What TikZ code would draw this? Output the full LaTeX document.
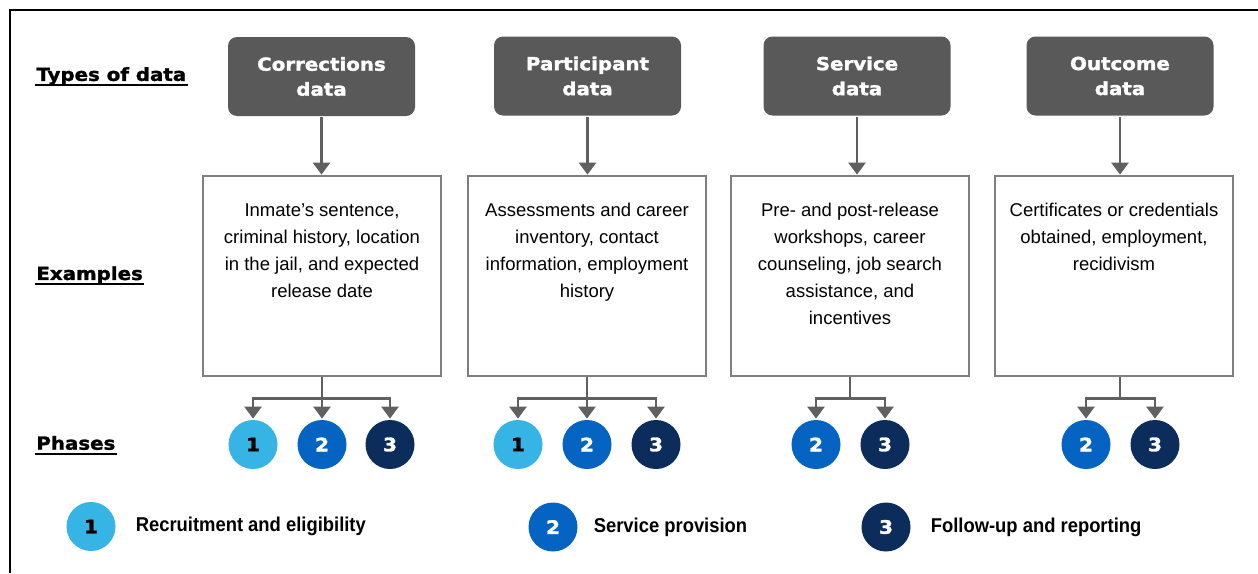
\documentclass[tikz,border=0pt]{standalone}
\usepackage{fontspec}
\setmainfont{Liberation Sans}
\newfontfamily\heavyfont[FakeStretch=1.1,FakeBold=1.6]{DejaVu Sans Bold}
\newfontfamily\narrowfont[FakeStretch=0.92]{Liberation Sans Bold}
\usetikzlibrary{arrows.meta,positioning}

\definecolor{typegray}{HTML}{595959}
\definecolor{linegray}{HTML}{606060}
\definecolor{boxgray}{HTML}{7F7F7F}
\definecolor{phaseone}{HTML}{36B4E5}
\definecolor{phasetwo}{HTML}{0563C1}
\definecolor{phasethree}{HTML}{0C2D5C}

\newcommand\exbox[1]{\parbox[c][200pt][t]{238pt}{\centering\vspace*{27.5pt}#1}}

\begin{document}
\begin{tikzpicture}[x=1pt,y=-1pt,>={Triangle[width=17pt,length=12pt]},
    line width=2.8pt,
    type node/.style={rectangle,rounded corners=9pt,fill=typegray,text=white,
      minimum width=187pt,minimum height=79pt,align=center,
      font=\heavyfont\fontsize{18}{25}\selectfont},
    example node/.style={rectangle,draw=boxgray,inner sep=0pt,
      font=\fontsize{18.5}{27}\selectfont},
    phase node/.style={circle,minimum size=49pt,inner sep=0pt,
      font=\heavyfont\fontsize{18.5}{18}\selectfont},
    one/.style={phase node,fill=phaseone,text=black},
    two/.style={phase node,fill=phasetwo,text=white},
    three/.style={phase node,fill=phasethree,text=white},
    row label/.style={anchor=west,inner sep=0pt,font=\heavyfont\fontsize{18}{20}\selectfont},
    key label/.style={anchor=west,inner sep=0pt,font=\narrowfont\fontsize{20}{22}\selectfont},
    link/.style={->,draw=linegray}]
  \useasboundingbox (0,0) rectangle (1258,573);
  \draw[line width=2pt] (10,573) -- (10,10) -- (1258,10);

  % row labels
  \node[row label] (types) at (35,76) {Types of data};
  \node[row label] (examples) at (35,275) {Examples};
  \node[row label] (phases) at (35,443) {Phases};
  \foreach \n in {types,examples,phases}
    \draw[line width=1.8pt] ([yshift=-4pt]\n.base west) -- ([yshift=-4pt]\n.base east);

  % types of data
  \node[type node] (corr) at (321.5,76.5) {Corrections\\data};
  \node[type node] (part) at (587.5,76) {Participant\\data};
  \node[type node] (serv) at (857,76) {Service\\data};
  \node[type node] (outc) at (1120,76) {Outcome\\data};

  % examples
  \node[example node] (excorr) at (322,276) {\exbox{Inmate’s sentence,\\criminal history, location\\in the jail, and expected\\release date}};
  \node[example node] (expart) at (587,276) {\exbox{Assessments and career\\inventory, contact\\information, employment\\history}};
  \node[example node] (exserv) at (850,276) {\exbox{Pre- and post-release\\workshops, career\\counseling, job search\\assistance, and\\incentives}};
  \node[example node] (exoutc) at (1114,276) {\exbox{Certificates or credentials\\obtained, employment,\\recidivism}};

  \foreach \t/\e in {corr/excorr,part/expart,serv/exserv,outc/exoutc}
    \draw[link] (\t.south) -- (\t.south |- \e.north);

  % phases
  \node[one] (c1) at (253,444.5) {1};
  \node[two] (c2) at (322,444.5) {2};
  \node[three] (c3) at (390,444.5) {3};
  \node[one] (p1) at (518,444.5) {1};
  \node[two] (p2) at (587,444.5) {2};
  \node[three] (p3) at (656,444.5) {3};
  \node[two] (s2) at (816,444.5) {2};
  \node[three] (s3) at (885,444.5) {3};
  \node[two] (o2) at (1086,444.5) {2};
  \node[three] (o3) at (1155,444.5) {3};

  \draw[link] (excorr.south) -- (c2.north);
  \draw[link] (excorr.south) -- ++(0,21) -| (c1.north);
  \draw[link] (excorr.south) -- ++(0,21) -| (c3.north);
  \draw[link] (expart.south) -- (p2.north);
  \draw[link] (expart.south) -- ++(0,21) -| (p1.north);
  \draw[link] (expart.south) -- ++(0,21) -| (p3.north);
  \draw[link] (exserv.south) -- ++(0,21) -| (s2.north);
  \draw[link] (exserv.south) -- ++(0,21) -| (s3.north);
  \draw[link] (outc.south |- exoutc.south) -- ++(0,21) -| (o2.north);
  \draw[link] (outc.south |- exoutc.south) -- ++(0,21) -| (o3.north);

  % key
  \node[one] (k1) at (91,526.5) {1};
  \node[key label] (k1 text) [right=17.5pt of k1] {Recruitment and eligibility};
  \node[two] (k2) at (553,527) {2};
  \node[key label] (k2 text) [right=13.5pt of k2] {Service provision};
  \node[three] (k3) at (886,527) {3};
  \node[key label] (k3 text) [right=17.5pt of k3] {Follow-up and reporting};
\end{tikzpicture}
\end{document}
